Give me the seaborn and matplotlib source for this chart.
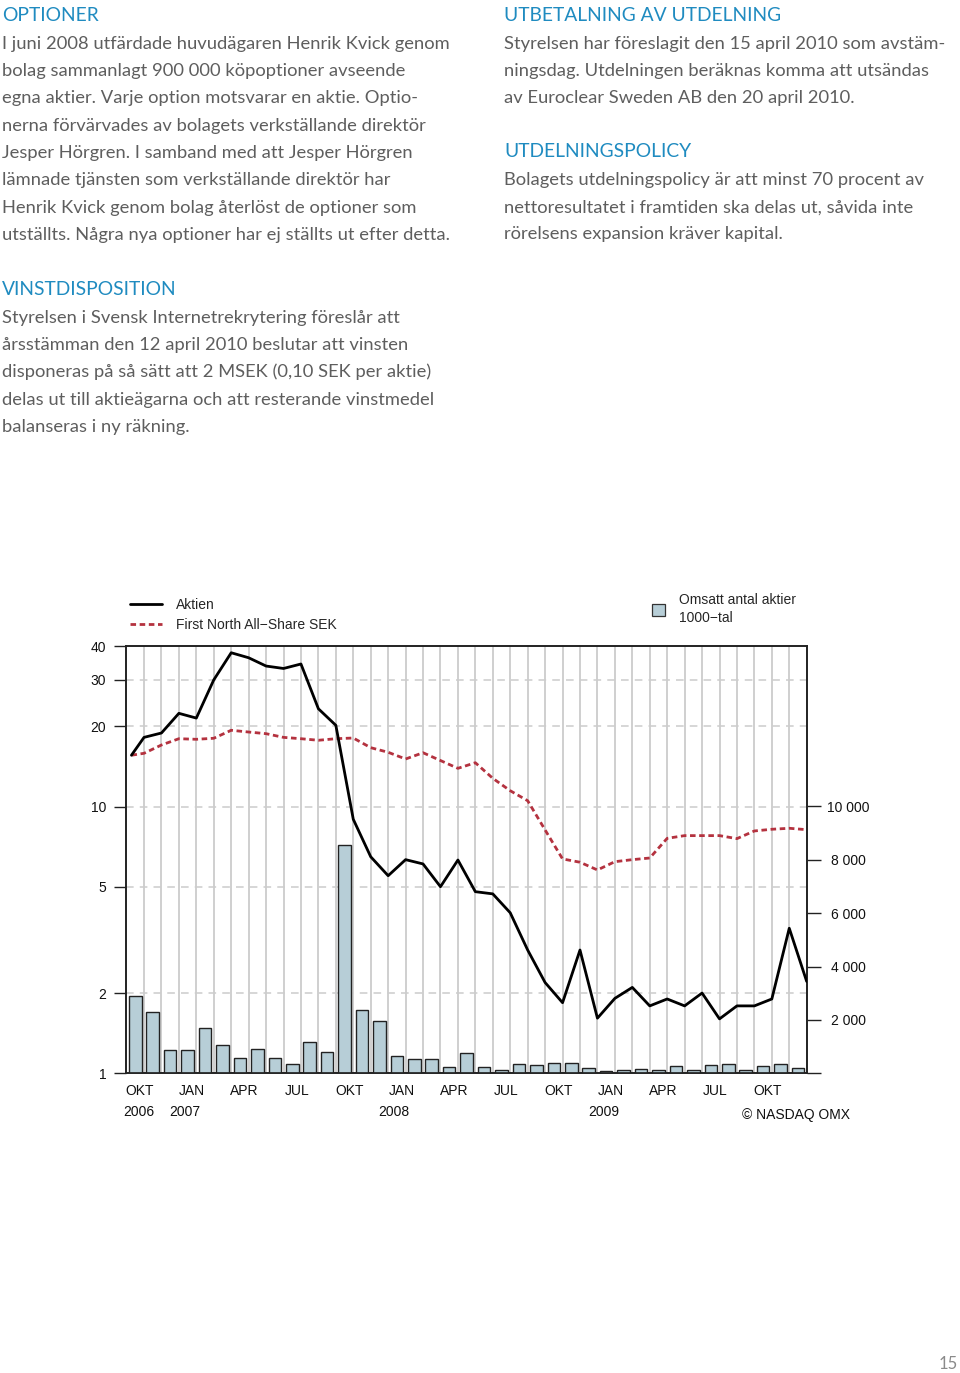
import numpy as np
import pandas as pd
import matplotlib
matplotlib.use('Agg')
import matplotlib.pyplot as plt
import seaborn as sns
from matplotlib.lines import Line2D
from matplotlib.patches import Patch
from matplotlib.ticker import FixedLocator, NullLocator

# ---------------- data ----------------
month_labels = ['OKT', 'JAN', 'APR', 'JUL', 'OKT', 'JAN', 'APR', 'JUL',
                'OKT', 'JAN', 'APR', 'JUL', 'OKT']
year_labels = ['2006', '2007', '2008', '2009']
# monthly traded volume (1000s of shares), Oct 2006 .. Dec 2009
volume = [2910, 2310, 860, 885, 1690, 1070, 585, 900, 575, 360,
          1185, 790, 8570, 2385, 1950, 650, 550, 525, 250, 775,
          240, 110, 360, 310, 375, 400, 210, 100, 125, 160,
          110, 275, 125, 300, 350, 110, 275, 335, 210]
# share price (SEK), first observation then month-end values
aktien = [15.6, 18.2, 18.9, 22.4, 21.5, 29.9, 37.8, 36.2, 33.7, 33.0,
          34.3, 23.3, 20.2, 8.97, 6.49, 5.51, 6.33, 6.10, 5.01, 6.31,
          4.80, 4.71, 4.00, 2.90, 2.19, 1.84, 2.90, 1.61, 1.91, 2.10,
          1.79, 1.90, 1.79, 2.00, 1.60, 1.79, 1.79, 1.90, 3.50, 2.21]
first_north = [15.6, 15.86, 17.04, 17.99, 17.90, 18.06, 19.35, 19.06, 18.79, 18.2,
               17.99, 17.75, 17.99, 18.1, 16.65, 16.0, 15.1, 15.94, 14.9, 13.93,
               14.62, 12.78, 11.48, 10.53, 8.18, 6.37, 6.19, 5.79, 6.22, 6.33,
               6.42, 7.61, 7.79, 7.79, 7.79, 7.59, 8.11, 8.23, 8.30, 8.20]
price_ticks = [1, 2, 5, 10, 20, 30, 40]
price_grid = [2, 5, 10, 20, 30]
volume_ticks = [0, 2000, 4000, 6000, 8000, 10000]
volume_tick_labels = ['', '2 000', '4 000', '6 000', '8 000', '10 000']

# month index of each bar (0 = Oct 2006) and of each price observation
bar_month = np.arange(len(volume))
price_month = np.r_[-0.22, bar_month + 0.5]
month_label_pos = np.arange(0, len(volume), 3) + 0.27
year_label_pos = [0.2, 2.85, 14.85, 26.85]

optioner_lines = [
    "I juni 2008 utfärdade huvudägaren Henrik Kvick genom",
    "bolag sammanlagt 900 000 köpoptioner avseende",
    "egna aktier. Varje option motsvarar en aktie. Optio-",
    "nerna förvärvades av bolagets verkställande direktör",
    "Jesper Hörgren. I samband med att Jesper Hörgren",
    "lämnade tjänsten som verkställande direktör har",
    "Henrik Kvick genom bolag återlöst de optioner som",
    "utställts. Några nya optioner har ej ställts ut efter detta.",
]
utbet_lines = [
    "Styrelsen har föreslagit den 15 april 2010 som avstäm-",
    "ningsdag. Utdelningen beräknas komma att utsändas",
    "av Euroclear Sweden AB den 20 april 2010.",
]
policy_lines = [
    "Bolagets utdelningspolicy är att minst 70 procent av",
    "nettoresultatet i framtiden ska delas ut, såvida inte",
    "rörelsens expansion kräver kapital.",
]
vinst_lines = [
    "Styrelsen i Svensk Internetrekrytering föreslår att",
    "årsstämman den 12 april 2010 beslutar att vinsten",
    "disponeras på så sätt att 2 MSEK (0,10 SEK per aktie)",
    "delas ut till aktieägarna och att resterande vinstmedel",
    "balanseras i ny räkning.",
]

# ---------------- style ----------------
sns.set_style('white')
plt.rcParams['font.family'] = ['Liberation Sans', 'DejaVu Sans']
plt.rcParams['axes.unicode_minus'] = True

W_PX, H_PX = 960, 1373
fig = plt.figure(figsize=(W_PX / 100, H_PX / 100), dpi=100)


def fx(x):
    return x / W_PX


def fy(y):
    return 1 - y / H_PX


bar_color = '#b7ced7'
red = '#b4323f'
spine_color = '#222222'
grid_color = '#cccccc'

left, right, top, bottom = 125.7, 806.7, 646.2, 1073.3
ax = fig.add_axes([fx(left), fy(bottom), (right - left) / W_PX, (bottom - top) / H_PX])
ax_vol = ax.twinx()
ax_ln = ax.twinx()

# --- price axis (left, log) with grid ---
ax.set_yscale('log')
ax.set_ylim(1, 40)
ax.set_xlim(-0.55, 38.5)
ax.yaxis.set_major_locator(FixedLocator(price_ticks))
ax.yaxis.set_minor_locator(NullLocator())
ax.set_yticks(price_ticks, [str(v) for v in price_ticks])
ax.tick_params(axis='y', which='major', length=9, width=1.0, color=spine_color,
               pad=5, labelsize=10, labelcolor='#111111')
for v in price_grid:
    ax.axhline(v, color=grid_color, lw=1.1, ls=(0, (5, 4)), zorder=0)
ax.xaxis.set_minor_locator(FixedLocator(bar_month + 0.5))
ax.grid(axis='x', which='minor', color=grid_color, lw=1.3, ls='-')
ax.grid(axis='x', which='major', visible=False)
ax.grid(axis='y', visible=False)
ax.set_xticks(month_label_pos, month_labels)
ax.tick_params(axis='x', which='both', length=0, pad=7.5, labelsize=10, labelcolor='#111111')
sec = ax.secondary_xaxis('bottom')
sec.set_xticks(year_label_pos, year_labels)
sec.tick_params(axis='x', length=0, pad=22.5, labelsize=10, labelcolor='#111111')
sec.spines['bottom'].set_visible(False)

# --- volume bars (right axis) ---
sns.barplot(x=bar_month, y=volume, ax=ax_vol, native_scale=True, color=bar_color,
            saturation=1, edgecolor=spine_color, linewidth=1.0, width=0.72, zorder=2)
ax_vol.set_ylim(0, 16000)
ax_vol.set_xlim(-0.55, 38.5)
ax_vol.set_yticks(volume_ticks, volume_tick_labels, ha='center')
ax_vol.tick_params(axis='y', length=10, width=1.0, color=spine_color, pad=20,
                   labelsize=10, labelcolor='#111111')
ax_vol.set_xlabel('')
ax_vol.set_ylabel('')

# --- price lines ---
sns.lineplot(x=price_month, y=first_north, ax=ax_ln, color=red, lw=2.0,
             linestyle=(0, (2.0, 1.3)), sort=False)
sns.lineplot(x=price_month, y=aktien, ax=ax_ln, color='black', lw=2.0, sort=False)
ax_ln.set_yscale('log')
ax_ln.set_ylim(1, 40)
ax_ln.set_xlim(-0.55, 38.5)
ax_ln.axis('off')
ax.set_xlabel('')
ax.set_ylabel('')

for a in (ax, ax_vol):
    for s in a.spines.values():
        s.set_color(spine_color)
        s.set_linewidth(1.2)
        s.set_visible(True)

# --- legends ---
fig.legend(handles=[Line2D([], [], color='black', lw=2.0),
                    Line2D([], [], color=red, lw=2.0, ls=(0, (2.0, 1.3)))],
           labels=['Aktien', 'First North All\u2212Share SEK'],
           loc='upper left', bbox_to_anchor=(fx(130), fy(598)), frameon=False,
           fontsize=10, handlelength=2.3, handletextpad=1.0, labelspacing=0.4,
           borderpad=0, borderaxespad=0)
leg2 = fig.legend(handles=[Patch(facecolor=bar_color, edgecolor='#333333', lw=0.9)],
                  labels=['Omsatt antal aktier\n1000\u2212tal'],
                  loc='upper left', bbox_to_anchor=(fx(652), fy(593)), frameon=False,
                  fontsize=10, handlelength=0.95, handleheight=0.95, handletextpad=1.0,
                  borderpad=0, borderaxespad=0)
leg2.get_texts()[0].set_linespacing(1.4)

fig.text(fx(742), fy(1115), '\u00a9 NASDAQ OMX', fontsize=10, va='center', ha='left',
         color='#111111')

# --- page text ---
body_family = ['Lato', 'DejaVu Sans']
head_color = '#1f8bc0'
body_color = '#5e5e5e'

fig.canvas.draw()
rend = fig.canvas.get_renderer()
probe = fig.text(0, 0, optioner_lines[0], fontsize=14, family=body_family)
body_fs = 14 * 450 / probe.get_window_extent(rend).width
probe.remove()
probe = fig.text(0, 0, 'UTBETALNING AV UTDELNING', fontsize=14, family=body_family)
head_fs = 14 * 278 / probe.get_window_extent(rend).width
probe.remove()

blocks = [
    (2, 21, 'OPTIONER', 49, optioner_lines),
    (504, 21, 'UTBETALNING AV UTDELNING', 49, utbet_lines),
    (504, 157, 'UTDELNINGSPOLICY', 185, policy_lines),
    (2, 295, 'VINSTDISPOSITION', 323, vinst_lines),
]
line_step = 27.25
for x0, yh, head, y1, lines in blocks:
    fig.text(fx(x0), fy(yh), head, fontsize=head_fs, family=body_family,
             color=head_color, va='baseline', ha='left')
    for i, ln in enumerate(lines):
        fig.text(fx(x0), fy(y1 + i * line_step), ln, fontsize=body_fs,
                 family=body_family, color=body_color, va='baseline', ha='left')

fig.text(fx(958), fy(1369), '15', fontsize=12, family=body_family, color='#8a8a8a',
         va='baseline', ha='right')

fig.savefig('out.png', dpi=100)
